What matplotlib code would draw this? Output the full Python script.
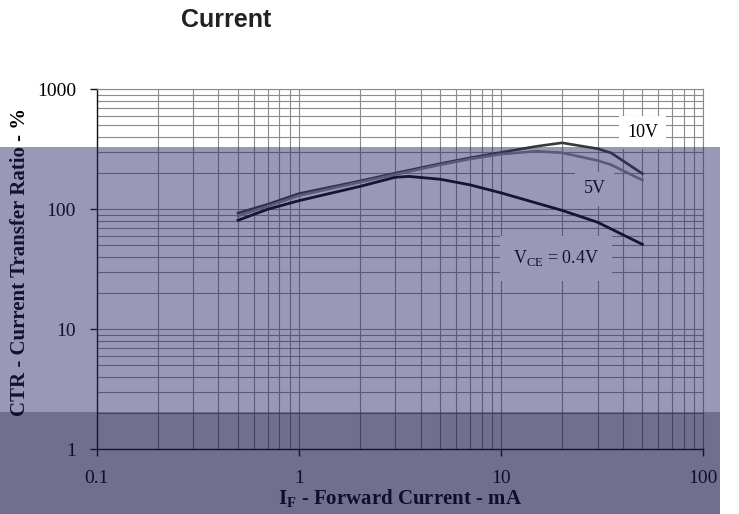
import matplotlib
matplotlib.use("Agg")
import matplotlib.pyplot as plt
from matplotlib.patches import Rectangle
from matplotlib.ticker import LogLocator, NullFormatter

# ---- data ----
if_10v = [0.5, 0.7, 1, 2, 3, 5, 7, 10, 15, 20, 30, 35, 50]
ctr_10v = [93, 110, 135, 172, 200, 240, 268, 298, 335, 358, 320, 295, 198]
if_5v = [0.5, 0.7, 1, 2, 3, 5, 7, 10, 15, 20, 30, 35, 50]
ctr_5v = [88, 106, 130, 168, 195, 235, 262, 288, 305, 296, 255, 235, 175]
if_04v = [0.5, 0.7, 1, 2, 3, 3.5, 5, 7, 10, 20, 30, 50]
ctr_04v = [81, 100, 118, 155, 185, 188, 178, 160, 137, 98, 78, 51]

x_ticks = [0.1, 1, 10, 100]
x_ticklabels = ["0.1", "1", "10", "100"]
y_ticks = [1, 10, 100, 1000]
y_ticklabels = ["1", "10", "100", "1000"]

title = "Current"
xlabel = "I$_{\\mathregular{F}}$ - Forward Current - mA"
ylabel = "CTR - Current Transfer Ratio - %"
labels = ["10V", "5V", "V$_{\\mathregular{CE}}$ = 0.4V"]

plt.rcParams["mathtext.fontset"] = "custom"
plt.rcParams["mathtext.rm"] = "Liberation Serif"
plt.rcParams["mathtext.bf"] = "Liberation Serif:bold"

W, H = 739, 514
fig = plt.figure(figsize=(W / 100, H / 100), dpi=100)
ax = fig.add_axes([96.7 / W, 1 - 449.3 / H, (703.3 - 96.7) / W, (449.3 - 89.3) / H])
ax.set_xscale("log")
ax.set_yscale("log")
ax.set_xlim(0.1, 100)
ax.set_ylim(1, 1000)

ax.set_xticks(x_ticks)
ax.set_xticklabels(x_ticklabels)
ax.set_yticks(y_ticks)
ax.set_yticklabels(y_ticklabels)
for a in (ax.xaxis, ax.yaxis):
    a.set_minor_locator(LogLocator(base=10, subs=range(2, 10), numticks=20))
    a.set_minor_formatter(NullFormatter())

ax.grid(True, which="both", color="#8a8a8a", lw=0.8)
ax.set_axisbelow(True)
for s in ["top", "right"]:
    ax.spines[s].set_color("#8a8a8a")
    ax.spines[s].set_linewidth(0.8)
for s in ["left", "bottom"]:
    ax.spines[s].set_color("#111111")
    ax.spines[s].set_linewidth(1.0)

ax.tick_params(which="major", direction="out", length=5, width=1, color="#111111",
               labelsize=14)
ax.tick_params(which="minor", length=0)
ax.tick_params(axis="y", pad=10)
ax.tick_params(axis="x", pad=10)
for lab in ax.get_xticklabels() + ax.get_yticklabels():
    lab.set_family("Liberation Serif")

ax.plot(if_10v, ctr_10v, color="#3a3a3a", lw=1.9, zorder=4)
ax.plot(if_5v, ctr_5v, color="#8a8a8a", lw=1.9, zorder=4)
ax.plot(if_04v, ctr_04v, color="#050505", lw=2.0, zorder=4)

box = dict(facecolor="white", edgecolor="none", pad=6)
ax.text(50, 438, labels[0], family="Liberation Serif", fontsize=13, ha="center", va="center",
        bbox=box, zorder=3)
ax.text(29, 148, labels[1], family="Liberation Serif", fontsize=13, ha="center", va="center",
        bbox=box, zorder=3)
ax.text(18.7, 39, labels[2], family="Liberation Serif", fontsize=13, ha="center", va="center",
        bbox=dict(facecolor="white", edgecolor="none", pad=9), zorder=3)

ax.set_xlabel(xlabel, family="Liberation Serif", fontweight="bold", fontsize=15, labelpad=0)
ax.set_ylabel(ylabel, family="Liberation Serif", fontweight="bold", fontsize=15)
ax.yaxis.set_label_coords(-(96.7 - 30) / (703.3 - 96.7), (449.3 - 262) / 360)

fig.text(226 / W, 1 - 20 / H, title, family="Liberation Sans", fontweight="bold",
         fontsize=18, ha="center", va="center", color="#222222")

# purple overlays covering the image
fig.add_artist(Rectangle((0, 1 - 412 / H), 720 / W, (412 - 147) / H, transform=fig.transFigure,
                         facecolor=(42 / 255, 38 / 255, 105 / 255), alpha=0.475,
                         edgecolor="none", zorder=100))
fig.add_artist(Rectangle((0, 0), 720 / W, 1 - 412 / H, transform=fig.transFigure,
                         facecolor=(24 / 255, 23 / 255, 73 / 255), alpha=0.62,
                         edgecolor="none", zorder=100))

fig.savefig("out.png", dpi=100)
